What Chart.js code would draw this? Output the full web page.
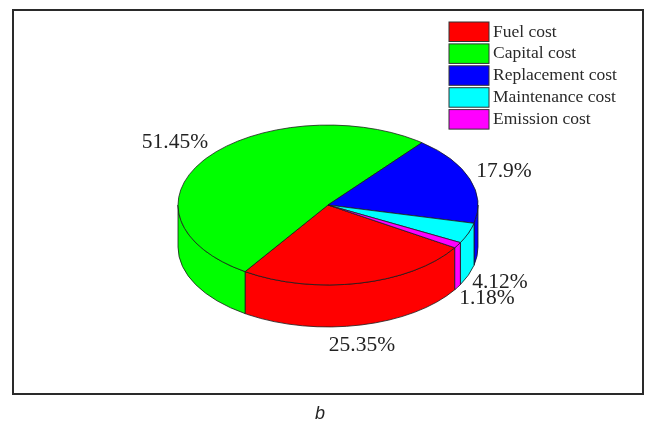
<!DOCTYPE html>
<html>
<head>
<meta charset="utf-8">
<style>
  html, body { margin: 0; padding: 0; background: #fff; }
  canvas { display: block; }
</style>
<script src="https://cdn.jsdelivr.net/npm/chart.js@4"></script>
</head>
<body>
<canvas id="myChart" width="651" height="423"></canvas>
<script>
const categories = ['Fuel cost', 'Capital cost', 'Replacement cost', 'Maintenance cost', 'Emission cost'];
const costShares = [25.35, 51.45, 17.9, 4.12, 1.18];
const shareLabels = ['25.35%', '51.45%', '17.9%', '4.12%', '1.18%'];
const sliceColors = ['#ff0000', '#00ff00', '#0000ff', '#00ffff', '#ff00ff'];

// look of the fake 3d disc
const squash = 0.533;
const depth = 42;
const outline = '#1a1a1a';

// where the percent labels sit (text centre)
const labelSpots = [[362, 345], [175, 142], [504, 171], [500, 282], [487, 298]];

const disc3d = {
  id: 'disc3d',
  beforeDatasetsDraw(chart) {
    const ctx = chart.ctx;
    const arcs = chart.getDatasetMeta(0).data;
    const cx = arcs[0].x, cy = arcs[0].y;
    const r = arcs[0].outerRadius;
    const ry = r * squash;

    // side wall, only the front half (0..PI on the canvas) can be seen
    arcs.forEach((arc, i) => {
      [-2, 0, 2].forEach(turn => {
        const a = Math.max(arc.startAngle + turn * Math.PI, 0);
        const b = Math.min(arc.endAngle + turn * Math.PI, Math.PI);
        if (b <= a) return;
        ctx.beginPath();
        ctx.ellipse(cx, cy + depth, r, ry, 0, a, b);
        ctx.ellipse(cx, cy, r, ry, 0, b, a, true);
        ctx.closePath();
        ctx.fillStyle = sliceColors[i];
        ctx.fill();
        ctx.lineWidth = 0.8;
        ctx.strokeStyle = outline;
        ctx.stroke();
      });
    });

    ctx.save();
    ctx.translate(0, cy);
    ctx.scale(1, squash);
    ctx.translate(0, -cy);
  },
  afterDatasetsDraw(chart) {
    const ctx = chart.ctx;
    ctx.restore();

    ctx.fillStyle = '#222';
    ctx.font = '21.5px "Liberation Serif"';
    ctx.textAlign = 'center';
    ctx.textBaseline = 'middle';
    shareLabels.forEach((txt, i) => ctx.fillText(txt, labelSpots[i][0], labelSpots[i][1]));

    // legend by hand, the built in one forces a wider gap after the box
    ctx.textAlign = 'left';
    ctx.font = '17.5px "Liberation Serif"';
    categories.forEach((name, i) => {
      const top = 22 + i * 21.9;
      ctx.fillStyle = sliceColors[i];
      ctx.fillRect(449, top, 40, 19.5);
      ctx.lineWidth = 1;
      ctx.strokeStyle = '#333';
      ctx.strokeRect(449, top, 40, 19.5);
      ctx.fillStyle = '#2a2a2a';
      ctx.fillText(name, 493, top + 10);
    });
  },
  beforeDraw(chart) {
    const ctx = chart.ctx;
    ctx.save();
    ctx.strokeStyle = '#2a2a2a';
    ctx.lineWidth = 2;
    ctx.strokeRect(13, 10, 630, 384);
    ctx.fillStyle = '#222';
    ctx.font = 'italic 18px "Liberation Sans"';
    ctx.textAlign = 'center';
    ctx.textBaseline = 'alphabetic';
    ctx.fillText('b', 320, 419);
    ctx.restore();
  }
};

new Chart('myChart', {
  type: 'pie',
  data: {
    labels: categories,
    datasets: [{
      data: costShares,
      backgroundColor: sliceColors,
      borderColor: outline,
      borderWidth: 1
    }]
  },
  options: {
    responsive: false,
    animation: false,
    radius: 150,
    rotation: 122.3,
    layout: { padding: { left: 5, bottom: 13 } },
    plugins: {
      tooltip: { enabled: false },
      legend: { display: false }
    }
  },
  plugins: [disc3d]
});
</script>
</body>
</html>
